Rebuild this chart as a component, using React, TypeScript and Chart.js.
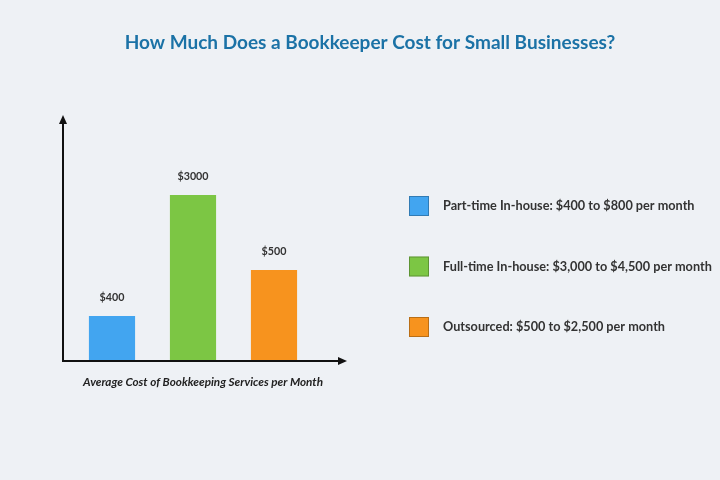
import React, { useEffect, useRef } from "react";
import { Chart, registerables } from "chart.js";

Chart.register(...registerables);

const categories = ["Part-time In-house", "Full-time In-house", "Outsourced"];
// visual bar heights (relative units, axis has no numeric scale)
const barHeights = [18.3, 67.5, 37];
const valueLabels = ["$400", "$3000", "$500"];
const legendLabels = [
  "Part-time In-house: $400 to $800 per month",
  "Full-time In-house: $3,000 to $4,500 per month",
  "Outsourced: $500 to $2,500 per month",
];
const barColors = ["#42a5f0", "#7cc644", "#f7931e"];
const titleText = "How Much Does a Bookkeeper Cost for Small Businesses?";
const xCaption = "Average Cost of Bookkeeping Services per Month";

const BG = "#eef1f5";

const decorPlugin = {
  id: "decor",
  beforeDraw(chart: any) {
    const { ctx, width, height } = chart;
    ctx.save();
    ctx.fillStyle = BG;
    ctx.fillRect(0, 0, width, height);
    ctx.restore();
  },
  afterDraw(chart: any) {
    const { ctx, chartArea } = chart;
    const meta = chart.getDatasetMeta(0);
    ctx.save();
    // title
    ctx.fillStyle = "#1b72a6";
    ctx.font = "bold 19px Lato";
    ctx.textAlign = "center";
    ctx.textBaseline = "middle";
    ctx.fillText(titleText, 370, 43);

    // axes
    const ax = chartArea.left - 8.5;
    const ay = chartArea.bottom;
    const yTop = chartArea.top;
    const xEnd = chartArea.right + 32.5;
    ctx.strokeStyle = "#111";
    ctx.fillStyle = "#111";
    ctx.lineWidth = 2;
    ctx.beginPath();
    ctx.moveTo(ax, ay);
    ctx.lineTo(ax, yTop + 6);
    ctx.moveTo(ax - 1, ay);
    ctx.lineTo(xEnd - 6, ay);
    ctx.stroke();
    ctx.beginPath();
    ctx.moveTo(ax, yTop);
    ctx.lineTo(ax - 4, yTop + 9);
    ctx.lineTo(ax + 4, yTop + 9);
    ctx.closePath();
    ctx.fill();
    ctx.beginPath();
    ctx.moveTo(xEnd, ay);
    ctx.lineTo(xEnd - 9, ay - 4);
    ctx.lineTo(xEnd - 9, ay + 4);
    ctx.closePath();
    ctx.fill();

    // value labels
    ctx.fillStyle = "#333";
    ctx.font = "bold 10.7px Lato";
    ctx.textAlign = "center";
    ctx.textBaseline = "middle";
    meta.data.forEach((bar: any, i: number) => {
      ctx.fillText(valueLabels[i], bar.x, bar.y - 18);
    });

    // x caption
    ctx.font = "italic bold 11.7px Lato";
    ctx.fillStyle = "#222";
    ctx.fillText(xCaption, 203, 382);

    // legend
    ctx.textAlign = "left";
    ctx.font = "bold 12.7px Lato";
    legendLabels.forEach((lbl, i) => {
      const cy = 206 + i * 60.5;
      ctx.fillStyle = barColors[i];
      ctx.fillRect(409, cy - 10, 20, 20);
      ctx.strokeStyle = "rgba(0,0,0,0.25)";
      ctx.lineWidth = 1;
      ctx.strokeRect(409.5, cy - 9.5, 19, 19);
      ctx.fillStyle = "#333";
      ctx.fillText(lbl, 443, cy);
    });
    ctx.restore();
  },
};

export default function App() {
  const ref = useRef<HTMLCanvasElement>(null);
  useEffect(() => {
    document.body.style.margin = "0";
    const chart = new Chart(ref.current!, {
      type: "bar",
      data: {
        labels: categories,
        datasets: [
          {
            data: barHeights,
            backgroundColor: barColors,
            borderWidth: 0,
            barPercentage: 0.57,
            categoryPercentage: 1,
          },
        ],
      },
      options: {
        animation: false,
        responsive: false,
        layout: { padding: { left: 71.5, right: 405.5, top: 115, bottom: 119 } },
        plugins: { legend: { display: false }, title: { display: false }, tooltip: { enabled: false } },
        scales: {
          x: { display: false },
          y: { display: false, min: 0, max: 100 },
        },
      },
      plugins: [decorPlugin],
    });
    return () => chart.destroy();
  }, []);
  return (
    <div style={{ width: 720, height: 480, background: BG }}>
      <canvas ref={ref} width={720} height={480} style={{ display: "block" }} />
    </div>
  );
}
